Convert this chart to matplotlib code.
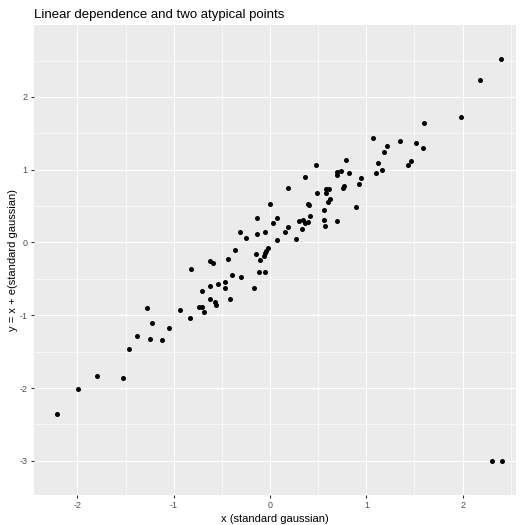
import numpy as np
import matplotlib
matplotlib.use("Agg")
import matplotlib.pyplot as plt
from matplotlib.ticker import MultipleLocator

plt.rcParams['font.family'] = ['Liberation Sans', 'DejaVu Sans']
plt.rcParams['axes.unicode_minus'] = False

# --- Data: x ~ standard gaussian, y = x + e, plus two atypical points
x = [-2.21, -1.99, -1.80, -1.53, -1.46, -1.38, -1.28, -1.23, -1.25, -1.12,
     -1.05, -0.93, -0.83, -0.74, -0.71, -0.69, -0.71, -0.62, -0.62, 0.19,
     0.00, -0.14, 0.07, 0.03, 0.19, -0.31, -0.25, -0.14, -0.05, 0.16,
     0.07, -0.36, -0.02, -0.04, -0.05, -0.06, -0.15, -0.10, -0.44, -0.62,
     -0.59, -0.82, -0.39, -0.30, -0.11, -0.05, -0.17, -0.47, -0.54, -0.47,
     -0.42, -0.57, -0.56, 1.07, 1.21, 1.35, 1.18, 1.12, 1.16, 1.10,
     0.79, 0.48, 0.70, 0.74, 0.70, 0.82, 0.36, 0.95, 0.92, 0.77,
     0.76, 0.61, 0.58, 0.58, 0.49, 0.62, 0.60, 0.39, 0.40, 0.89,
     0.56, 0.42, 0.30, 0.34, 0.36, 0.39, 0.56, 0.70, 0.57, 0.33,
     0.27, 2.40, 2.18, 1.98, 1.60, 1.52, 1.59, 1.46, 1.43]
y = [-2.36, -2.01, -1.84, -1.86, -1.46, -1.28, -0.90, -1.11, -1.32, -1.34,
     -1.18, -0.93, -1.04, -0.88, -0.88, -0.95, -0.67, -0.77, -0.60, 0.75,
     0.53, 0.34, 0.34, 0.27, 0.21, 0.14, 0.06, 0.12, 0.14, 0.14,
     0.04, -0.10, -0.08, -0.12, -0.15, -0.18, -0.16, -0.24, -0.23, -0.25,
     -0.28, -0.36, -0.45, -0.48, -0.41, -0.41, -0.62, -0.55, -0.57, -0.63,
     -0.78, -0.82, -0.86, 1.44, 1.32, 1.39, 1.24, 1.09, 0.99, 0.95,
     1.14, 1.07, 0.97, 0.98, 0.93, 0.96, 0.90, 0.88, 0.80, 0.77,
     0.75, 0.74, 0.73, 0.68, 0.68, 0.60, 0.56, 0.53, 0.51, 0.49,
     0.45, 0.36, 0.30, 0.31, 0.27, 0.28, 0.31, 0.30, 0.23, 0.18,
     0.05, 2.52, 2.23, 1.72, 1.64, 1.36, 1.30, 1.12, 1.07]
x_out = [2.31, 2.41]
y_out = [-3.0, -3.0]

W, H = 521, 525
top_px, bot_px = 24.5, 495
fig = plt.figure(figsize=(W / 100, H / 100), dpi=100)
ax = fig.add_axes([34 / W, (H - bot_px) / H, (516 - 34) / W, (bot_px - top_px) / H])

ax.set_facecolor('#EBEBEB')
for s in ax.spines.values():
    s.set_visible(False)

ax.scatter(x + x_out, y + y_out, s=13, color='black', linewidths=0, zorder=3)

ax.set_xlim(-2.45, 2.554)
ax.set_ylim(-3.47, 2.995)

ax.xaxis.set_major_locator(MultipleLocator(1))
ax.xaxis.set_minor_locator(MultipleLocator(0.5))
ax.yaxis.set_major_locator(MultipleLocator(1))
ax.yaxis.set_minor_locator(MultipleLocator(0.5))

ax.grid(which='major', color='white', linewidth=0.8)
ax.grid(which='minor', color='white', linewidth=0.4)
ax.set_axisbelow(True)

ax.tick_params(which='major', length=2.0, width=0.8, color='#333333',
               labelcolor='#4D4D4D', labelsize=6.4, pad=2.5)
ax.tick_params(which='minor', length=0)

ax.set_xlabel('x (standard gaussian)', fontsize=8, color='black', labelpad=2.5)
ax.set_ylabel('y = x + e(standard gaussian)', fontsize=8, color='black', labelpad=1)
ax.set_title('Linear dependence and two atypical points', fontsize=9.5,
             loc='left', pad=5)

fig.savefig('out.png', dpi=100)
